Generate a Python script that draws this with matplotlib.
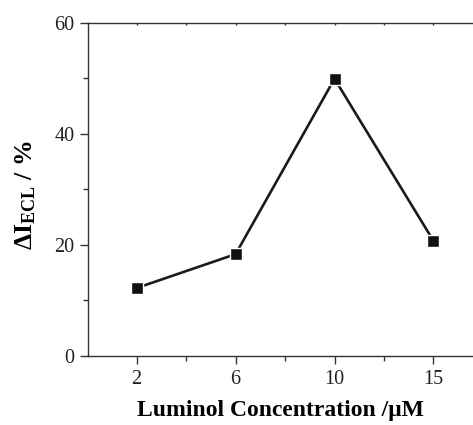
import matplotlib
matplotlib.use("Agg")
import matplotlib.pyplot as plt
from matplotlib.ticker import MultipleLocator, FixedLocator

categories = ["2", "6", "10", "15"]
values = [12.2, 18.3, 49.9, 20.7]

plt.rcParams['font.family'] = ['Liberation Serif', 'DejaVu Serif']
plt.rcParams['mathtext.fontset'] = 'custom'
plt.rcParams['mathtext.rm'] = 'Liberation Serif'
plt.rcParams['mathtext.bf'] = 'Liberation Serif:bold'
plt.rcParams['mathtext.it'] = 'Liberation Serif:italic'

fig = plt.figure(figsize=(4.73, 4.25), dpi=100)
ax = fig.add_axes([0.1854, 0.163, 1.0 - 0.1854, 0.9466 - 0.163])

x = list(range(len(categories)))
ax.plot(x, values, color='#1a1a1a', lw=1.9, marker='s', markersize=8,
        markerfacecolor='#111111', markeredgecolor='white', markeredgewidth=1.0,
        solid_capstyle='butt', zorder=3)

ax.set_xlim(-0.495, 3.40)
ax.set_ylim(0, 60)
ax.set_xticks(x)
ax.set_xticklabels(categories)
ax.xaxis.set_minor_locator(FixedLocator([-0.5, 0.5, 1.5, 2.5]))
ax.yaxis.set_major_locator(MultipleLocator(20))
ax.yaxis.set_minor_locator(MultipleLocator(10))

for s in ['left', 'bottom', 'top']:
    ax.spines[s].set_linewidth(1.0)
    ax.spines[s].set_color('#333333')
ax.spines['right'].set_visible(False)

ax.tick_params(axis='both', which='major', direction='out', length=5.5, width=1.0,
               labelsize=14.5, colors='#333333', labelcolor='#222222', pad=4)
ax.tick_params(axis='both', which='minor', direction='out', length=3.5, width=1.0,
               colors='#333333')
ax.tick_params(axis='x', which='both', top=True, labeltop=False)
ax.tick_params(axis='x', which='major', pad=5)
for t in ax.xaxis.get_major_ticks() + ax.xaxis.get_minor_ticks():
    t.tick2line.set_marker(3)
    t.tick2line.set_markersize(1.5)

ax.set_xlabel('Luminol Concentration /μM', fontsize=17, fontweight='bold', labelpad=8)
ax.set_ylabel(r'$\mathbf{\Delta I_{ECL}}$ / %', fontsize=18.5, fontweight='bold')
ax.yaxis.set_label_coords(-0.128, 0.481)

fig.savefig('out.png', dpi=100)
